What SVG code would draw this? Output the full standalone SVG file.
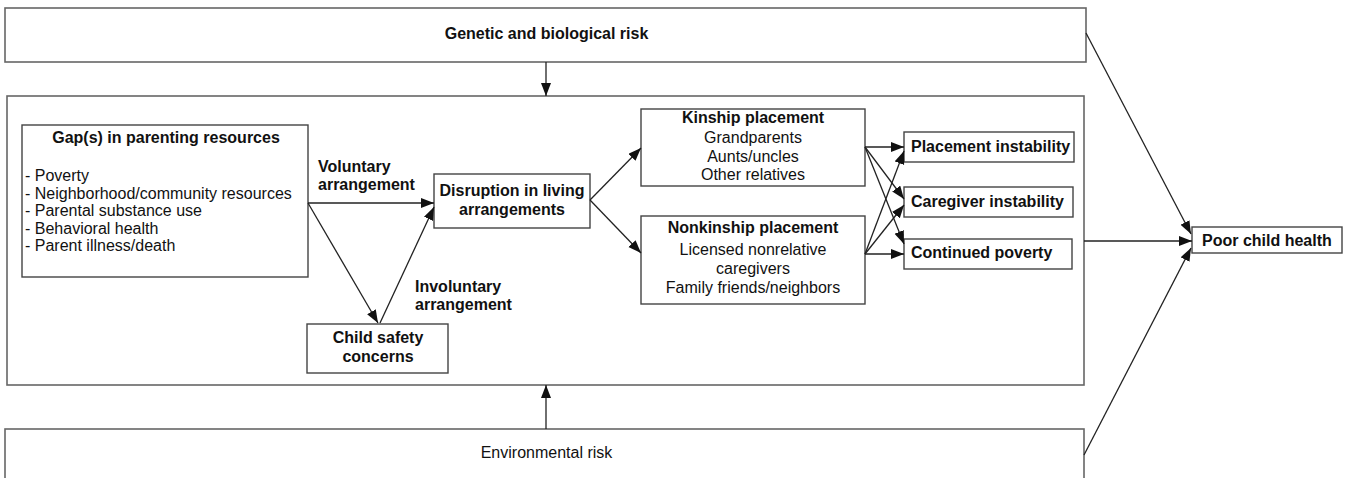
<svg xmlns="http://www.w3.org/2000/svg" width="1348" height="478" viewBox="0 0 1348 478">
<style>
.frame{fill:#fff;stroke:#666;stroke-width:1.6}
.box{fill:#fff;stroke:#444;stroke-width:1.4}
.t{font-family:"Liberation Sans",Arial,sans-serif;font-size:16px;fill:#111}
.b{font-weight:bold}
.c{text-anchor:middle}
.ln{stroke:#222;stroke-width:1.3;fill:none}
</style>
<defs>
<marker id="ah" markerUnits="userSpaceOnUse" markerWidth="14" markerHeight="12" refX="13" refY="5" orient="auto">
<path d="M0,0 L13,5 L0,10 z" fill="#111"/>
</marker>
</defs>
<rect width="1348" height="478" fill="#fff"/>
<g id="genetic">
<rect class="frame" x="5" y="8" width="1081" height="54"/>
<text class="t b c" x="546.5" y="39">Genetic and biological risk</text>
</g>
<g id="context">
<rect class="frame" x="7" y="96" width="1077" height="289"/>
</g>
<g id="environmental">
<rect class="frame" x="5" y="429" width="1079" height="70"/>
<text class="t c" x="546.5" y="458">Environmental risk</text>
</g>
<g id="gaps">
<rect class="box" x="22" y="125" width="286" height="152"/>
<text class="t b c" x="166" y="143">Gap(s) in parenting resources</text>
<text class="t" x="25" y="181">- Poverty</text>
<text class="t" x="25" y="199">- Neighborhood/community resources</text>
<text class="t" x="25" y="216">- Parental substance use</text>
<text class="t" x="25" y="234">- Behavioral health</text>
<text class="t" x="25" y="251">- Parent illness/death</text>
</g>
<g id="child-safety">
<rect class="box" x="307" y="324" width="141" height="49"/>
<text class="t b c" x="378" y="343">Child safety</text>
<text class="t b c" x="378" y="362">concerns</text>
</g>
<g id="disruption">
<rect class="box" x="434" y="174" width="156" height="54"/>
<text class="t b c" x="512" y="196">Disruption in living</text>
<text class="t b c" x="512" y="215">arrangements</text>
</g>
<g id="kinship">
<rect class="box" x="641" y="109" width="224" height="77"/>
<text class="t b c" x="753" y="123">Kinship placement</text>
<text class="t c" x="753" y="143">Grandparents</text>
<text class="t c" x="753" y="162">Aunts/uncles</text>
<text class="t c" x="753" y="180">Other relatives</text>
</g>
<g id="nonkinship">
<rect class="box" x="641" y="216" width="224" height="88"/>
<text class="t b c" x="753" y="233">Nonkinship placement</text>
<text class="t c" x="753" y="255">Licensed nonrelative</text>
<text class="t c" x="753" y="274">caregivers</text>
<text class="t c" x="753" y="293">Family friends/neighbors</text>
</g>
<g id="placement-instability">
<rect class="box" x="904" y="132" width="170" height="30"/>
<text class="t b" x="911" y="152">Placement instability</text>
</g>
<g id="caregiver-instability">
<rect class="box" x="904" y="187" width="169" height="30"/>
<text class="t b" x="911" y="207">Caregiver instability</text>
</g>
<g id="continued-poverty">
<rect class="box" x="904" y="239" width="168" height="30"/>
<text class="t b" x="911" y="258">Continued poverty</text>
</g>
<g id="poor-child-health">
<rect class="box" x="1192" y="227" width="150" height="26"/>
<text class="t b" x="1202" y="246">Poor child health</text>
</g>
<g id="labels">
<text class="t b" x="318" y="172">Voluntary</text>
<text class="t b" x="318" y="190">arrangement</text>
<text class="t b" x="415" y="292">Involuntary</text>
<text class="t b" x="415" y="310">arrangement</text>
</g>
<g id="connectors">
<line class="ln" x1="546" y1="62" x2="546" y2="96" marker-end="url(#ah)"/>
<line class="ln" x1="546" y1="429" x2="546" y2="385" marker-end="url(#ah)"/>
<line class="ln" x1="308" y1="203" x2="434" y2="203" marker-end="url(#ah)"/>
<line class="ln" x1="308" y1="203" x2="378" y2="323" marker-end="url(#ah)"/>
<line class="ln" x1="380" y1="323" x2="434" y2="207" marker-end="url(#ah)"/>
<line class="ln" x1="590" y1="200" x2="641" y2="148" marker-end="url(#ah)"/>
<line class="ln" x1="590" y1="200" x2="641" y2="253" marker-end="url(#ah)"/>
<line class="ln" x1="865" y1="147" x2="904" y2="147" marker-end="url(#ah)"/>
<line class="ln" x1="865" y1="147" x2="904" y2="199" marker-end="url(#ah)"/>
<line class="ln" x1="865" y1="147" x2="904" y2="244" marker-end="url(#ah)"/>
<line class="ln" x1="865" y1="254" x2="904" y2="151" marker-end="url(#ah)"/>
<line class="ln" x1="865" y1="254" x2="904" y2="205" marker-end="url(#ah)"/>
<line class="ln" x1="865" y1="254" x2="904" y2="254" marker-end="url(#ah)"/>
<line class="ln" x1="1084" y1="241" x2="1192" y2="241" marker-end="url(#ah)"/>
<line class="ln" x1="1086" y1="33" x2="1191" y2="234" marker-end="url(#ah)"/>
<line class="ln" x1="1084" y1="455" x2="1191" y2="248" marker-end="url(#ah)"/>
</g>
</svg>
